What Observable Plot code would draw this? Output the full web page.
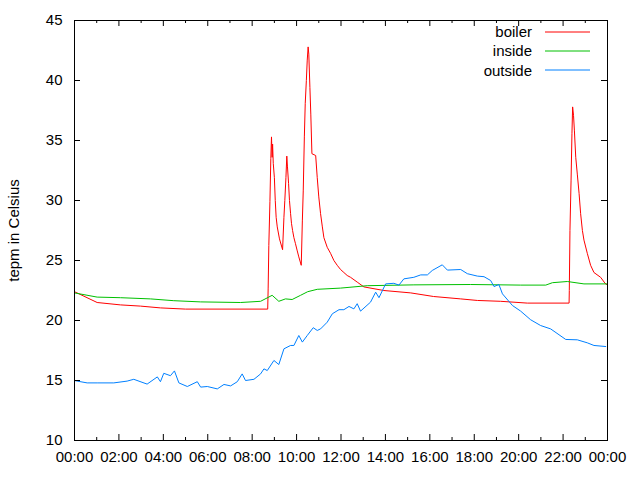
<!DOCTYPE html>
<html><head><meta charset="utf-8">
<script src="https://cdn.jsdelivr.net/npm/d3@7"></script>
<script src="https://cdn.jsdelivr.net/npm/@observablehq/plot@0.6"></script>
<style>
body{margin:0;background:#fff}
#wrap{position:relative;width:640px;height:480px;font-family:"Liberation Sans",Arial,sans-serif}
#legend{position:absolute;top:22px;left:420px;font-size:15px;color:#000}
#legend .row{display:flex;align-items:center;height:19.3px}
#legend .lab{width:112px;text-align:right;padding-right:13px}
</style>
</head><body><div id="wrap"></div>
<script>
const seriesNames = ["boiler", "inside", "outside"];
const seriesColors = ["#ff0000", "#00c000", "#0080ff"];

const boilerHours = [0, 1.02, 2.07, 2.97, 3.87, 5.0, 8.7, 8.72, 8.75, 8.8, 8.84, 8.87, 8.9, 8.92, 8.95, 9.0, 9.04, 9.08, 9.13, 9.23, 9.37, 9.43, 9.47, 9.52, 9.56, 9.59, 9.64, 9.68, 9.73, 9.77, 9.82, 9.88, 9.95, 10.03, 10.1, 10.21, 10.26, 10.3, 10.35, 10.39, 10.44, 10.48, 10.52, 10.55, 10.6, 10.64, 10.69, 10.86, 10.93, 11.0, 11.08, 11.16, 11.23, 11.38, 11.53, 11.68, 11.83, 11.98, 12.13, 12.28, 12.43, 12.73, 13.03, 13.93, 15.14, 16.17, 17.39, 18.14, 19.19, 20.39, 22.27, 22.28, 22.31, 22.36, 22.4, 22.43, 22.47, 22.51, 22.57, 22.64, 22.72, 22.79, 22.87, 22.94, 23.09, 23.24, 23.39, 23.69, 23.89, 23.96];
const boilerTemps = [22.4, 21.5, 21.3, 21.2, 21.05, 20.95, 20.95, 22.7, 26.25, 29.9, 33.5, 35.3, 33.6, 34.7, 33.1, 31.9, 30.0, 28.6, 27.8, 26.8, 25.9, 28.6, 30.0, 31.9, 33.7, 32.8, 31.4, 30.0, 28.9, 28.1, 27.5, 26.9, 26.4, 25.8, 25.3, 24.6, 28.3, 30.8, 35.3, 38.1, 40.0, 41.7, 42.8, 42.2, 39.4, 37.2, 33.9, 33.75, 31.9, 30.3, 28.9, 27.8, 26.9, 26.1, 25.6, 25.0, 24.6, 24.25, 24.0, 23.75, 23.6, 23.2, 22.8, 22.5, 22.3, 22.0, 21.8, 21.67, 21.6, 21.45, 21.45, 22.5, 27.5, 31.7, 35.6, 37.8, 37.1, 35.8, 33.6, 32.2, 30.6, 28.9, 27.5, 26.7, 25.6, 24.6, 24.0, 23.6, 23.1, 23.0];

const insideHours = [0, 1.02, 2.07, 3.42, 4.47, 5.68, 7.48, 8.38, 8.9, 9.2, 9.5, 9.8, 10.18, 10.5, 10.93, 11.98, 13.18, 15.28, 17.84, 20.09, 21.22, 21.52, 22.19, 22.94, 23.96];
const insideTemps = [22.3, 21.95, 21.9, 21.8, 21.65, 21.55, 21.5, 21.6, 22.1, 21.6, 21.8, 21.75, 22.1, 22.4, 22.6, 22.7, 22.9, 22.97, 23.0, 22.95, 22.95, 23.15, 23.25, 23.05, 23.05];

const outsideHours = [0, 0.12, 0.57, 1.02, 1.77, 2.37, 2.67, 3.27, 3.73, 3.87, 4.02, 4.32, 4.5, 4.7, 5.08, 5.53, 5.68, 5.98, 6.43, 6.73, 7.03, 7.33, 7.55, 7.7, 8.08, 8.38, 8.53, 8.68, 8.98, 9.2, 9.43, 9.73, 9.88, 10.1, 10.26, 10.48, 10.75, 10.93, 11.08, 11.38, 11.61, 11.91, 12.13, 12.36, 12.58, 12.73, 12.88, 13.33, 13.56, 13.71, 14.01, 14.38, 14.61, 14.83, 15.28, 15.59, 15.89, 16.11, 16.56, 16.79, 17.39, 17.69, 18.14, 18.44, 18.74, 18.89, 19.11, 19.27, 19.72, 20.09, 20.54, 20.99, 21.44, 22.12, 22.64, 23.09, 23.39, 23.92];
const outsideTemps = [15.0, 14.95, 14.8, 14.8, 14.8, 14.95, 15.1, 14.7, 15.3, 14.9, 15.6, 15.4, 15.8, 14.8, 14.5, 14.9, 14.45, 14.5, 14.3, 14.67, 14.55, 14.9, 15.55, 15.0, 15.1, 15.55, 15.97, 15.83, 16.67, 16.33, 17.64, 17.92, 17.92, 18.75, 18.2, 18.75, 19.4, 19.17, 19.3, 19.86, 20.56, 20.9, 20.9, 21.17, 20.97, 21.4, 20.78, 21.53, 22.36, 21.9, 23.05, 23.1, 22.95, 23.47, 23.6, 23.8, 23.8, 24.17, 24.64, 24.2, 24.25, 23.9, 23.7, 23.65, 23.33, 22.83, 23.0, 22.22, 21.25, 20.78, 20.06, 19.58, 19.3, 18.42, 18.39, 18.14, 17.92, 17.83];

const xMajorTicks = [0, 2, 4, 6, 8, 10, 12, 14, 16, 18, 20, 22, 24];
const xMinorTicks = [1, 3, 5, 7, 9, 11, 13, 15, 17, 19, 21, 23];
const yTicks = [10, 15, 20, 25, 30, 35, 40, 45];
const yLabel = "tepm in Celsius";

const W = 640, H = 480, mL = 74, mR = 33, mT = 20, mB = 40;
const plotW = W - mL - mR, plotH = H - mT - mB;

const rows = [];
[[boilerHours, boilerTemps], [insideHours, insideTemps], [outsideHours, outsideTemps]].forEach(([hs, ts], i) => {
  hs.forEach((h, j) => rows.push({series: seriesNames[i], h, t: ts[j]}));
});

const fmt = h => String(h % 24).padStart(2, "0") + ":00";

const chart = Plot.plot({
  width: W, height: H,
  marginLeft: mL, marginRight: mR, marginTop: mT, marginBottom: mB,
  style: {fontFamily: "'Liberation Sans', Arial, sans-serif", fontSize: "15px", color: "#000", background: "#fff"},
  x: {domain: [0, 24]},
  y: {domain: [10, 45]},
  color: {domain: seriesNames, range: seriesColors},
  marks: [
    Plot.line(rows, {x: "h", y: "t", z: "series", stroke: "series", strokeWidth: 1}),
    Plot.tickX(xMajorTicks, {x: d => d, insetTop: plotH - 6, stroke: "#000"}),
    Plot.tickX(xMajorTicks, {x: d => d, insetBottom: plotH - 6, stroke: "#000"}),
    Plot.tickX(xMinorTicks, {x: d => d, insetTop: plotH - 3, stroke: "#000"}),
    Plot.tickX(xMinorTicks, {x: d => d, insetBottom: plotH - 3, stroke: "#000"}),
    Plot.tickY(yTicks, {y: d => d, insetRight: plotW - 6, stroke: "#000"}),
    Plot.tickY(yTicks, {y: d => d, insetLeft: plotW - 6, stroke: "#000"}),
    Plot.frame({stroke: "#000"}),
    Plot.axisX(xMajorTicks, {tickSize: 0, tickPadding: 11, tickFormat: fmt, label: null, fill: "#000"}),
    Plot.axisY(yTicks, {tickSize: 0, tickPadding: 12, label: yLabel, labelAnchor: "center", labelArrow: "none", labelOffset: 66, fill: "#000"})
  ]
});

const wrap = document.getElementById("wrap");
wrap.appendChild(chart);

const legend = d3.select(wrap).append("div").attr("id", "legend");
seriesNames.forEach((n, i) => {
  const row = legend.append("div").attr("class", "row");
  row.append("div").attr("class", "lab").text(n);
  row.append("svg").attr("width", 45).attr("height", 4)
    .append("line").attr("x1", 0).attr("x2", 45).attr("y1", 2).attr("y2", 2)
    .attr("stroke", seriesColors[i]).attr("stroke-width", 1);
});
</script>
</body></html>
